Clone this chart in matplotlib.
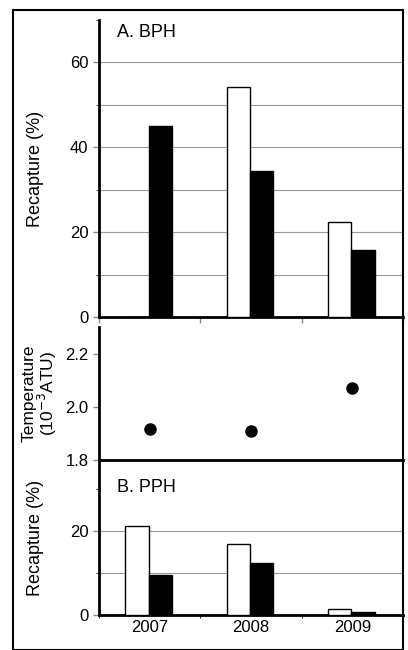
import matplotlib
matplotlib.use("Agg")
import matplotlib.pyplot as plt
from matplotlib.patches import Rectangle

plt.rcParams['font.family'] = ['Liberation Sans', 'DejaVu Sans']

years = ['2007', '2008', '2009']
bph_white = [0, 54.3, 22.3]
bph_black = [45.0, 34.4, 15.8]
temp = [1.915, 1.91, 2.07]
pph_white = [21.2, 16.9, 1.5]
pph_black = [9.6, 12.4, 0.6]

W = 408; H = 650
fig = plt.figure(figsize=(W/100, H/100), dpi=100)
L = 99/W; R = 403/W
def ax_at(top, bot):
    return fig.add_axes([L, 1-bot/H, R-L, (bot-top)/H])

ax1 = ax_at(20, 317)
ax2 = ax_at(327, 460)
ax3 = ax_at(460, 615)

x = range(3)
bw = 0.23
def bars(ax, w, b):
    ax.bar([i-0.125 for i in x], w, bw, color='white', edgecolor='black', lw=1, zorder=3)
    ax.bar([i+0.105 for i in x], b, bw, color='black', edgecolor='black', lw=1, zorder=3)

for ax in (ax1, ax2, ax3):
    ax.set_xlim(-0.5, 2.5)
    for s in ('top', 'right'):
        ax.spines[s].set_visible(False)
    ax.spines['left'].set_linewidth(2)
    ax.spines['bottom'].set_linewidth(2)
    ax.tick_params(axis='both', labelsize=12, direction='out', length=4, width=1, color='#888888')

def grid(ax, vals):
    for v in vals:
        ax.axhline(v, color='#999999', lw=0.8, zorder=0)

bars(ax1, bph_white, bph_black)
ax1.set_ylim(0, 70)
ax1.set_yticks([0, 20, 40, 60])
ax1.set_yticks(range(0, 71, 10), minor=True)
grid(ax1, [10, 20, 30, 40, 50, 60])
ax1.set_xticks([-0.5, 0.5, 1.5, 2.5]); ax1.set_xticklabels([])
ax1.set_ylabel('Recapture (%)', fontsize=13)
ax1.text(0.06, 0.985, 'A. BPH', transform=ax1.transAxes, fontsize=13, va='top')

ax2.plot(list(x), temp, 'o', color='black', ms=8, zorder=3)
ax2.set_ylim(1.8, 2.3)
ax2.set_yticks([1.8, 2.0, 2.2])
ax2.set_yticklabels(['1.8', '2.0', '2.2'])
ax2.set_xticks([])
ax2.spines['bottom'].set_visible(False)
ax2.set_ylabel('Temperature\n(10$^{-3}$ATU)', fontsize=12.5, linespacing=1.0)

bars(ax3, pph_white, pph_black)
ax3.set_ylim(0, 37)
ax3.set_yticks([0, 20])
ax3.set_yticks([0, 10, 20, 30], minor=True)
grid(ax3, [10, 20])
ax3.set_xticks([0, 1, 2]); ax3.set_xticklabels(years)
ax3.set_xticks([-0.5, 0.5, 1.5, 2.5], minor=True)
ax3.tick_params(axis='x', which='major', length=0)
ax3.set_ylabel('Recapture (%)', fontsize=13)
ax3.text(0.06, 0.88, 'B. PPH', transform=ax3.transAxes, fontsize=13, va='top')
ax3.spines['top'].set_visible(True); ax3.spines['top'].set_linewidth(2)

for ax in (ax1, ax3):
    ax.yaxis.set_label_coords(-0.18, 0.5)
ax2.yaxis.set_label_coords(-0.13, 0.5)

fig.patches.append(Rectangle((13/W, 0), (403-13)/W, 1-10/H, transform=fig.transFigure,
                             fill=False, edgecolor='black', lw=1.5))
fig.savefig('out.png', dpi=100)
